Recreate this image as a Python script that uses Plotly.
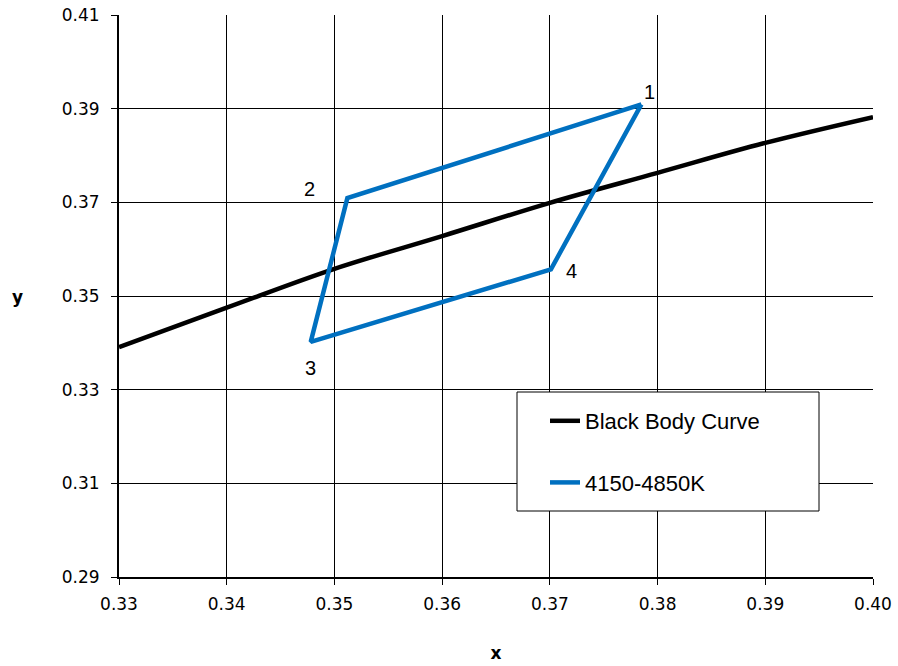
import plotly.graph_objects as go

# Black body (Planckian) curve
bb_x = [0.33, 0.34, 0.35, 0.36, 0.37, 0.38, 0.39, 0.40]
bb_y = [0.3391, 0.3475, 0.3558, 0.3628, 0.3699, 0.3763, 0.3827, 0.3882]

# 4150-4850K quadrangle corners (closed)
quad_labels = ["1", "2", "3", "4"]
quad_x = [0.3785, 0.3512, 0.3478, 0.3701]
quad_y = [0.3909, 0.3709, 0.3402, 0.3557]

x_ticks = [0.33, 0.34, 0.35, 0.36, 0.37, 0.38, 0.39, 0.40]
x_ticktext = ["0.33", "0.34", "0.35", "0.36", "0.37", "0.38", "0.39", "0.40"]
y_ticks = [0.29, 0.31, 0.33, 0.35, 0.37, 0.39, 0.41]
y_ticktext = ["0.29", "0.31", "0.33", "0.35", "0.37", "0.39", "0.41"]

BLUE = "#0070C0"
W, H = 898, 666
ML, MR, MT, MB = 119, 25, 15, 89
PW, PH = W - ML - MR, H - MT - MB

def px_to_paper_x(px):
    return (px - ML) / PW

def px_to_paper_y(py):
    return (H - MB - py) / PH

fig = go.Figure()
fig.add_trace(go.Scatter(
    x=bb_x, y=bb_y, mode="lines", name="Black Body Curve",
    line=dict(color="black", width=4.5, shape="spline"),
    legendgroup="a",
))
fig.add_trace(go.Scatter(
    x=quad_x + quad_x[:1], y=quad_y + quad_y[:1], mode="lines", name="4150-4850K",
    line=dict(color=BLUE, width=4.5),
    legendgroup="b",
))

# vertex labels
shifts = {"1": (8, 12), "2": (-38, 9), "3": (0, -26), "4": (21, -2)}
for lab, xv, yv in zip(quad_labels, quad_x, quad_y):
    dx, dy = shifts[lab]
    fig.add_annotation(x=xv, y=yv, text=lab, showarrow=False, xshift=dx, yshift=dy,
                       font=dict(family="Liberation Sans, Arial", size=20, color="black"))

# upright y-axis title
fig.add_annotation(xref="paper", yref="paper", x=px_to_paper_x(17), y=px_to_paper_y(297),
                   text="<b>y</b>", showarrow=False, xanchor="center", yanchor="middle",
                   font=dict(family="DejaVu Sans, Verdana", size=17, color="black"))

# legend frame
fig.add_shape(type="rect", xref="paper", yref="paper",
              x0=px_to_paper_x(517), x1=px_to_paper_x(819),
              y0=px_to_paper_y(511), y1=px_to_paper_y(392),
              line=dict(color="black", width=1), fillcolor="white", layer="above")

axis_common = dict(
    showgrid=True, gridcolor="black", gridwidth=1,
    showline=True, linecolor="black", linewidth=2,
    ticks="outside", ticklen=6, tickcolor="black", tickwidth=1,
    zeroline=False, automargin=False, ticklabeloverflow="allow",
    tickfont=dict(family="DejaVu Sans, Verdana", size=17, color="black"),
)

fig.update_layout(
    width=W, height=H,
    margin=dict(l=ML, r=MR, t=MT, b=MB),
    paper_bgcolor="white", plot_bgcolor="white",
    xaxis=dict(range=[0.33, 0.40], tickvals=x_ticks, ticktext=x_ticktext,
               ticklabelstandoff=5,
               title=dict(text="<b>x</b>", standoff=34,
                          font=dict(family="DejaVu Sans, Verdana", size=17, color="black")),
               **axis_common),
    yaxis=dict(range=[0.29, 0.41], tickvals=y_ticks, ticktext=y_ticktext,
               ticklabelstandoff=8, **axis_common),
    showlegend=True,
    legend=dict(
        x=px_to_paper_x(545), y=px_to_paper_y(400), xanchor="left", yanchor="top",
        bgcolor="rgba(0,0,0,0)", borderwidth=0,
        font=dict(family="Liberation Sans, Arial", size=22, color="black"),
        traceorder="grouped", tracegroupgap=30,
    ),
)

fig.write_html("out.html",
               config={"displayModeBar": False},
               post_script="document.body.style.margin='0px';document.body.style.overflow='hidden';")
